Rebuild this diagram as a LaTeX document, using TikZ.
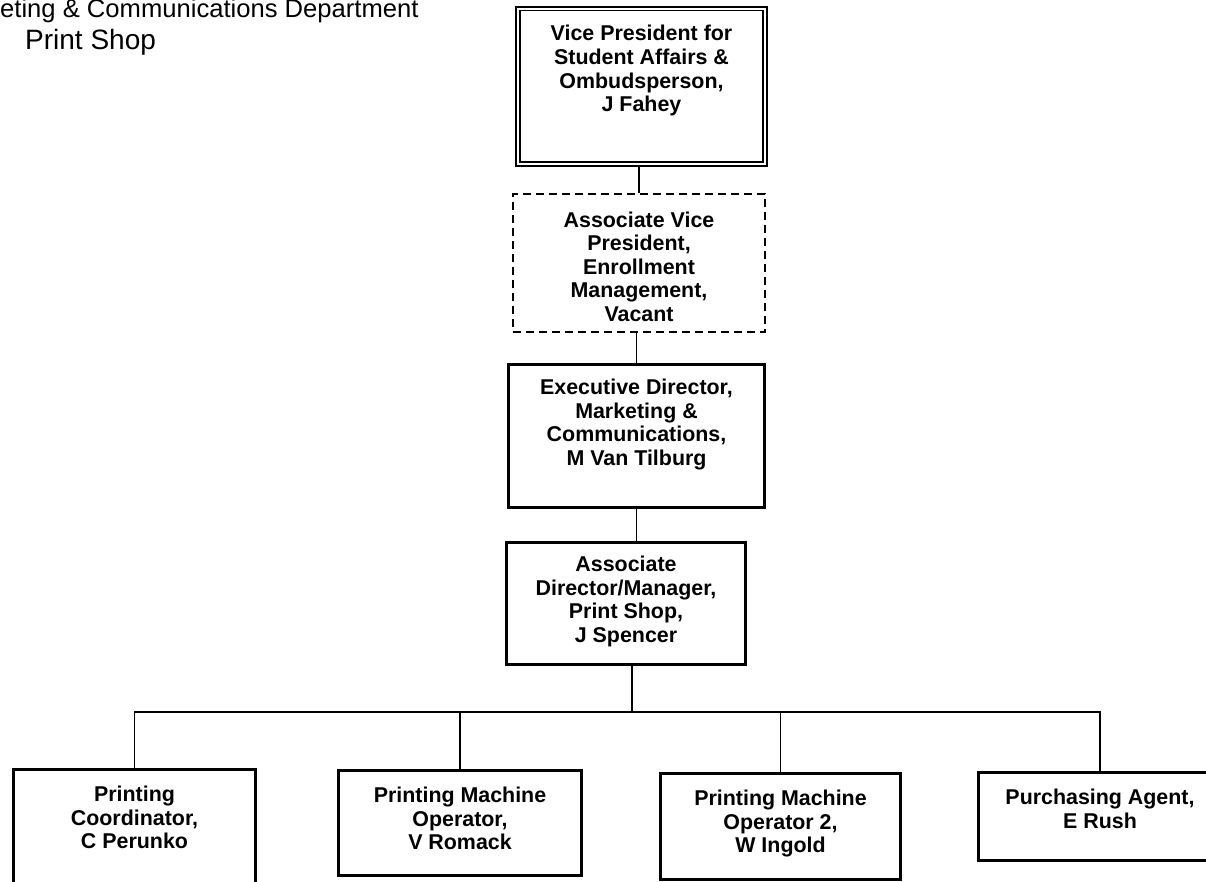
\documentclass[tikz,border=0pt]{standalone}
\usepackage{fontspec}
\setmainfont{Liberation Sans}
\tikzset{
  post/.style   = {draw, line width=3pt, align=center, anchor=north,
                   font=\fontsize{21.4}{23.6}\selectfont\bfseries,
                   inner xsep=4pt, inner ysep=0pt},
  head/.style   = {post, line width=1.8pt, double, double distance=2pt},
  vacant/.style = {post, line width=2.2pt, dash pattern=on 8pt off 5pt},
  link/.style   = {line width=1.6pt},
  ttl/.style    = {anchor=base west, inner sep=0pt},
}
\begin{document}
\begin{tikzpicture}[x=1pt, y=-1pt]
\fill[white] (0,0) rectangle (1206,882);
\useasboundingbox (0,0) rectangle (1206,882);

% --- title ---
\node[ttl, font=\fontsize{25.6}{28}\selectfont] (dept) at (0,18)
     {eting \& Communications Department};
\node[ttl, font=\fontsize{28}{30}\selectfont] (shop) at (25,50)
     {Print Shop};

% --- chain of command ---
\node[head, minimum width=247.4pt, text height=103pt, text depth=52.4pt]
     (vp) at (641.5,7.8)
     {Vice President for\\Student Affairs \&\\Ombudsperson,\\J Fahey};
\node[vacant, minimum width=252pt, text height=127.4pt, text depth=10.6pt]
     (avp) at (639,193)
     {Associate Vice\\President,\\Enrollment\\Management,\\Vacant};
\node[post, minimum width=256pt, text height=100.8pt, text depth=42.2pt]
     (exec) at (636.5,363)
     {Executive Director,\\Marketing \&\\Communications,\\M Van Tilburg};
\node[post, minimum width=239pt, text height=99.8pt, text depth=22.2pt]
     (dir) at (626,541)
     {Associate\\Director/Manager,\\Print Shop,\\J Spencer};

% --- staff ---
\node[post, minimum width=242pt, text height=79.2pt, text depth=47.8pt]
     (c1) at (134.5,768) {Printing\\Coordinator,\\C Perunko};
\node[post, minimum width=243pt, text height=79.2pt, text depth=25.8pt]
     (c2) at (460,769) {Printing Machine\\Operator,\\V Romack};
\node[post, minimum width=240pt, text height=79.2pt, text depth=26.8pt]
     (c3) at (780.5,772) {Printing Machine\\Operator 2,\\W Ingold};
\node[post, minimum width=243.5pt, text height=55.6pt, text depth=32.4pt]
     (c4) at (1100,771) {Purchasing Agent,\\E Rush};

\coordinate (bus) at (632,712);

\draw[link] (vp.south -| avp.north) -- (avp.north);
\draw[link] (avp.south -| exec.north) -- (exec.north);
\draw[link] (exec.south) -- (exec.south |- dir.north);
\draw[link] (dir.south -| bus) -- (bus);
\draw[link] (c1.north) -- (c1.north |- bus) -- (c4.north |- bus) -- (c4.north);
\foreach \n in {c2,c3}
  \draw[link] (bus -| \n.north) -- (\n.north);
\end{tikzpicture}
\end{document}
